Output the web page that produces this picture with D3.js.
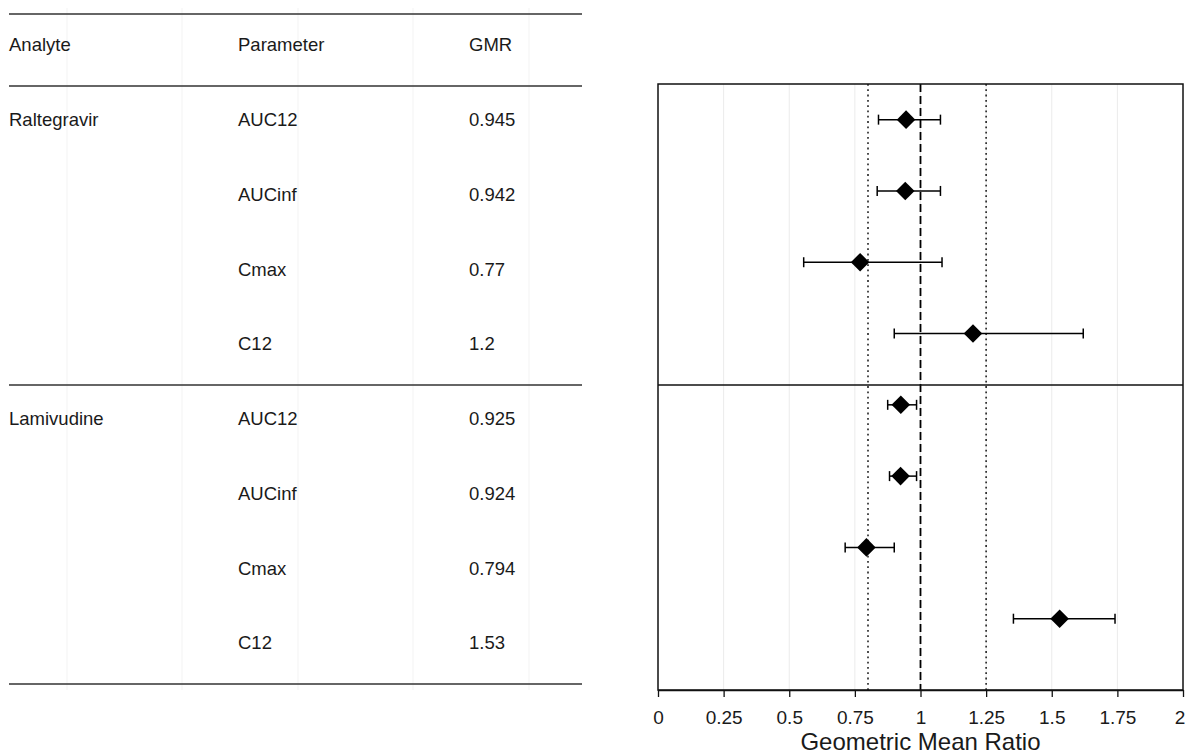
<!DOCTYPE html>
<html>
<head>
<meta charset="utf-8">
<script src="https://cdn.jsdelivr.net/npm/d3@7"></script>
<style>
  body { margin: 0; background: #fff; }
  text { font-family: "Liberation Sans", Arial, sans-serif; fill: #1a1a1a; }
</style>
</head>
<body>
<svg id="chart"></svg>
<script>
const width = 1185;
const height = 754;

// data
const analytes = ["Raltegravir", "Lamivudine"];
const parameters = ["AUC12", "AUCinf", "Cmax", "C12", "AUC12", "AUCinf", "Cmax", "C12"];
const rowAnalyte = ["Raltegravir", "Raltegravir", "Raltegravir", "Raltegravir",
                    "Lamivudine", "Lamivudine", "Lamivudine", "Lamivudine"];
const gmr = [0.945, 0.942, 0.77, 1.2, 0.925, 0.924, 0.794, 1.53];
const gmrLabels = ["0.945", "0.942", "0.77", "1.2", "0.925", "0.924", "0.794", "1.53"];
const ciLower = [0.840, 0.835, 0.555, 0.900, 0.875, 0.882, 0.713, 1.354];
const ciUpper = [1.076, 1.076, 1.082, 1.620, 0.985, 0.985, 0.900, 1.741];
const xTicks = [0, 0.25, 0.5, 0.75, 1, 1.25, 1.5, 1.75, 2];
const refLine = 1;
const boundLines = [0.8, 1.25];
const headers = ["Analyte", "Parameter", "GMR"];

const rows = gmr.map((g, i) => ({
  analyte: rowAnalyte[i], param: parameters[i], gmr: g, label: gmrLabels[i],
  lo: ciLower[i], hi: ciUpper[i], idx: i
}));

const fs = 18.5;

const svg = d3.select('svg#chart').attr('width', width).attr('height', height);

// ---- table on the left ----
const table = { left: 9, right: 582, top: 14, headBottom: 86, bottom: 684 };
const colX = [9, 238, 469];

// faint vertical guide lines behind the table
svg.append('g').selectAll('line')
  .data([67, 182, 298, 413, 529])
  .enter().append('line')
  .attr('x1', d => d).attr('x2', d => d)
  .attr('y1', 8).attr('y2', 690)
  .attr('stroke', '#f3f3f3').attr('stroke-width', 1);

// each analyte takes a block of 4 rows
const groupScale = d3.scaleLinear().domain([0, analytes.length])
  .range([table.headBottom, table.bottom]);
const rowScale = d3.scaleLinear().domain([0, 8])
  .range([table.headBottom, table.bottom]);

const hlines = [table.top, table.headBottom].concat(d3.range(1, analytes.length + 1).map(groupScale));
svg.append('g').selectAll('line')
  .data(hlines)
  .enter().append('line')
  .attr('x1', table.left).attr('x2', table.right)
  .attr('y1', d => d).attr('y2', d => d)
  .attr('stroke', '#333').attr('stroke-width', 1.5);

svg.append('g').selectAll('text')
  .data(headers)
  .enter().append('text')
  .attr('x', (d, i) => colX[i])
  .attr('y', 51)
  .attr('font-size', fs)
  .text(d => d);

const tRows = svg.append('g').selectAll('g')
  .data(rows)
  .enter().append('g')
  .attr('transform', d => 'translate(0,' + (rowScale(d.idx) + 40) + ')');

tRows.filter(d => d.idx % 4 === 0).append('text')
  .attr('x', colX[0]).attr('font-size', fs)
  .text(d => d.analyte);
tRows.append('text')
  .attr('x', colX[1]).attr('font-size', fs)
  .text(d => d.param);
tRows.append('text')
  .attr('x', colX[2]).attr('font-size', fs)
  .text(d => d.label);

// ---- forest plot on the right ----
const plot = { left: 658, right: 1183, top: 84, bottom: 690 };
const xScale = d3.scaleLinear().domain([0, 2]).range([plot.left, plot.right]);
const yScale = d3.scaleLinear().domain([0, 8.5]).range([plot.top, plot.bottom]);

const pg = svg.append('g');

pg.append('g').selectAll('line')
  .data(xTicks.filter(t => t > 0 && t < 2))
  .enter().append('line')
  .attr('x1', d => xScale(d)).attr('x2', d => xScale(d))
  .attr('y1', plot.top).attr('y2', plot.bottom)
  .attr('stroke', '#ebebeb').attr('stroke-width', 1);

pg.append('g').selectAll('line')
  .data(boundLines)
  .enter().append('line')
  .attr('x1', d => xScale(d)).attr('x2', d => xScale(d))
  .attr('y1', plot.top).attr('y2', plot.bottom)
  .attr('stroke', '#222').attr('stroke-width', 1.6)
  .attr('stroke-dasharray', '1.8,3.5');

pg.append('line')
  .attr('x1', xScale(refLine)).attr('x2', xScale(refLine))
  .attr('y1', plot.top).attr('y2', plot.bottom)
  .attr('stroke', '#000').attr('stroke-width', 1.8)
  .attr('stroke-dasharray', '8,4');

// divider between analytes, aligned with the table line
pg.append('line')
  .attr('x1', plot.left).attr('x2', plot.right)
  .attr('y1', groupScale(1)).attr('y2', groupScale(1))
  .attr('stroke', '#111').attr('stroke-width', 1.3);

// error bars
const bars = pg.append('g').selectAll('g')
  .data(rows)
  .enter().append('g')
  .attr('transform', d => 'translate(0,' + yScale(d.idx + 0.5) + ')');

bars.append('line')
  .attr('x1', d => xScale(d.lo)).attr('x2', d => xScale(d.hi))
  .attr('y1', 0).attr('y2', 0)
  .attr('stroke', '#000').attr('stroke-width', 1.5);
bars.append('line')
  .attr('x1', d => xScale(d.lo)).attr('x2', d => xScale(d.lo))
  .attr('y1', -5).attr('y2', 5)
  .attr('stroke', '#000').attr('stroke-width', 1.5);
bars.append('line')
  .attr('x1', d => xScale(d.hi)).attr('x2', d => xScale(d.hi))
  .attr('y1', -5).attr('y2', 5)
  .attr('stroke', '#000').attr('stroke-width', 1.5);

bars.append('path')
  .attr('d', d3.symbol(d3.symbolDiamond2, 220))
  .attr('transform', d => 'translate(' + xScale(d.gmr) + ',0)')
  .attr('fill', '#000');

// panel border
pg.append('rect')
  .attr('x', plot.left).attr('y', plot.top)
  .attr('width', plot.right - plot.left).attr('height', plot.bottom - plot.top)
  .attr('fill', 'none').attr('stroke', '#111').attr('stroke-width', 1.5);

// x axis
const xAxis = svg.append('g')
  .attr('transform', 'translate(0,' + plot.bottom + ')')
  .call(d3.axisBottom(xScale).tickValues(xTicks).tickFormat(d => String(d)).tickSize(7).tickSizeOuter(0));
xAxis.select('.domain').attr('stroke', '#111').attr('stroke-width', 1.5);
xAxis.selectAll('.tick line').attr('stroke', '#111').attr('stroke-width', 1.3);
xAxis.selectAll('.tick text')
  .attr('font-family', '"Liberation Sans", Arial, sans-serif')
  .attr('font-size', 19).attr('fill', '#1a1a1a')
  .attr('y', 34).attr('dy', null)
  .attr('dx', d => d === 2 ? -3.5 : 0);

svg.append('text')
  .attr('x', xScale(1)).attr('y', 750)
  .attr('text-anchor', 'middle')
  .attr('font-size', 24)
  .text('Geometric Mean Ratio');
</script>
</body>
</html>
